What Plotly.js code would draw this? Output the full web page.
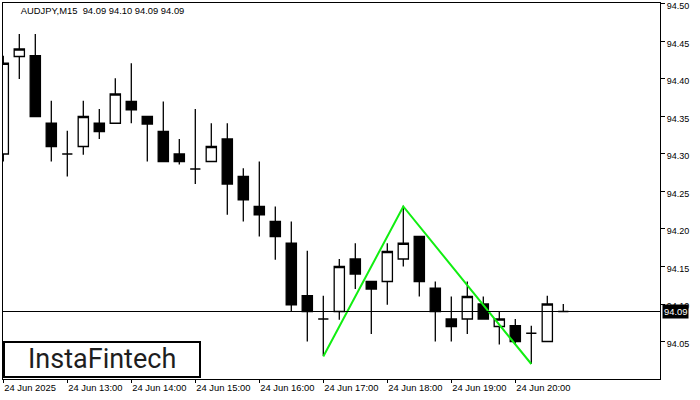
<!DOCTYPE html>
<html>
<head>
<meta charset="utf-8">
<script src="https://cdn.plot.ly/plotly-3.0.1.min.js"></script>
<style>html,body{margin:0;padding:0;background:#fff;}#chart{width:700px;height:400px;}</style>
</head>
<body>
<div id="chart"></div>
<script>
// ---- data (AUDJPY, M15, 24 Jun 2025) ----
const times = [
  "2025-06-24 12:00","2025-06-24 12:15","2025-06-24 12:30","2025-06-24 12:45",
  "2025-06-24 13:00","2025-06-24 13:15","2025-06-24 13:30","2025-06-24 13:45",
  "2025-06-24 14:00","2025-06-24 14:15","2025-06-24 14:30","2025-06-24 14:45",
  "2025-06-24 15:00","2025-06-24 15:15","2025-06-24 15:30","2025-06-24 15:45",
  "2025-06-24 16:00","2025-06-24 16:15","2025-06-24 16:30","2025-06-24 16:45",
  "2025-06-24 17:00","2025-06-24 17:15","2025-06-24 17:30","2025-06-24 17:45",
  "2025-06-24 18:00","2025-06-24 18:15","2025-06-24 18:30","2025-06-24 18:45",
  "2025-06-24 19:00","2025-06-24 19:15","2025-06-24 19:30","2025-06-24 19:45",
  "2025-06-24 20:00","2025-06-24 20:15","2025-06-24 20:30","2025-06-24 20:45"
];
const opens  = [94.300,94.430,94.431,94.341,94.300,94.310,94.341,94.341,94.370,94.350,94.330,94.300,
                94.280,94.290,94.320,94.270,94.230,94.210,94.181,94.111,94.080,94.090,94.160,94.130,
                94.130,94.160,94.190,94.121,94.080,94.080,94.100,94.070,94.071,94.061,94.050,94.090];
const highs  = [94.431,94.460,94.460,94.371,94.331,94.371,94.360,94.401,94.421,94.350,94.370,94.320,
                94.360,94.341,94.341,94.281,94.290,94.230,94.210,94.171,94.111,94.160,94.181,94.130,
                94.181,94.231,94.190,94.130,94.110,94.130,94.110,94.090,94.080,94.071,94.111,94.100];
const lows   = [94.290,94.400,94.350,94.290,94.270,94.299,94.320,94.341,94.341,94.290,94.290,94.286,
                94.260,94.290,94.219,94.210,94.190,94.159,94.090,94.050,94.031,94.079,94.120,94.060,
                94.099,94.150,94.110,94.050,94.050,94.060,94.080,94.046,94.046,94.020,94.050,94.090];
const closes = [94.421,94.440,94.350,94.310,94.300,94.350,94.330,94.380,94.359,94.340,94.290,94.290,
                94.280,94.310,94.260,94.239,94.219,94.190,94.099,94.090,94.080,94.150,94.140,94.120,
                94.170,94.181,94.130,94.090,94.070,94.110,94.080,94.080,94.050,94.061,94.100,94.090];

// pattern (green line)
const patternX = ["2025-06-24 17:00","2025-06-24 18:15","2025-06-24 20:15"];
const patternY = [94.03, 94.23, 94.02];

// axis ticks
const xTickVals = ["2025-06-24 12:00","2025-06-24 13:00","2025-06-24 14:00","2025-06-24 15:00",
                   "2025-06-24 16:00","2025-06-24 17:00","2025-06-24 18:00","2025-06-24 19:00","2025-06-24 20:00"];
const xTickText = ["24 Jun 2025","24 Jun 13:00","24 Jun 14:00","24 Jun 15:00",
                   "24 Jun 16:00","24 Jun 17:00","24 Jun 18:00","24 Jun 19:00","24 Jun 20:00"];
const yTickVals = [94.05,94.10,94.15,94.20,94.25,94.30,94.35,94.40,94.45,94.50];

const symbolLabel = "AUDJPY,M15";
const logoText = "InstaFintech";

// ---- layout geometry ----
const W = 700, H = 400;
const M = {l: 3, r: 40, t: 3, b: 21};
const plotW = W - M.l - M.r, plotH = H - M.t - M.b;
const px2paperX = px => (px - M.l) / plotW;
const px2paperY = py => (H - M.b - py) / plotH;

// x range: 16 px per 15-minute bar
const msPerPx = 15 * 60 * 1000 / 16;
const t0 = new Date("2025-06-24T12:00:00Z").getTime() - 0.3 * msPerPx;
const t1 = t0 + plotW * msPerPx;
const fmt = t => new Date(t).toISOString().replace("T", " ").replace("Z", "");

const last = closes[closes.length - 1];
const lastO = opens[opens.length - 1], lastH = highs[highs.length - 1], lastL = lows[lows.length - 1];
const titleText = symbolLabel + "  " + [lastO, lastH, lastL, last].map(v => v.toFixed(2)).join(" ");

const fontFam = "Liberation Sans, Arial, sans-serif";

const traces = [
  {
    type: "candlestick",
    x: times, open: opens, high: highs, low: lows, close: closes,
    increasing: {line: {color: "#000000", width: 1.3}, fillcolor: "#ffffff"},
    decreasing: {line: {color: "#000000", width: 1.3}, fillcolor: "#000000"},
    whiskerwidth: 0,
    hoverinfo: "skip",
    showlegend: false
  },
  {
    type: "scatter", mode: "lines",
    x: patternX, y: patternY,
    line: {color: "#11ee11", width: 2},
    hoverinfo: "skip", showlegend: false
  }
];

const layout = {
  width: W, height: H,
  margin: M,
  paper_bgcolor: "#ffffff", plot_bgcolor: "#ffffff",
  showlegend: false,
  boxgap: 0.36, boxgroupgap: 0,
  title: {
    text: titleText,
    x: 19 / W, xanchor: "left", xref: "paper",
    y: 1 - 11 / H, yanchor: "middle", yref: "container",
    font: {family: fontFam, size: 9.4, color: "#000000"}
  },
  xaxis: {
    type: "date",
    range: [fmt(t0), fmt(t1)],
    rangeslider: {visible: false},
    showgrid: false, zeroline: false,
    showline: true, linecolor: "#000000", linewidth: 1, mirror: true,
    ticks: "outside", ticklen: 3, tickcolor: "#000000", tickwidth: 1,
    tickvals: xTickVals, ticktext: xTickText,
    ticklabelposition: "outside right",
    tickfont: {family: fontFam, size: 9.4, color: "#000000"},
    fixedrange: true
  },
  yaxis: {
    side: "right",
    range: [94.00, 94.5013],
    showgrid: false, zeroline: false,
    showline: true, linecolor: "#000000", linewidth: 1, mirror: true,
    ticks: "outside", ticklen: 4, tickcolor: "#000000", tickwidth: 1,
    tickvals: yTickVals, tickformat: ".2f",
    ticklabeloverflow: "allow",
    ticklabelshift: 2,
    tickfont: {family: fontFam, size: 9, color: "#000000"},
    fixedrange: true
  },
  shapes: [
    {
      type: "line", xref: "paper", yref: "y",
      x0: 0, x1: 1, y0: last, y1: last,
      line: {color: "#000000", width: 1}
    },
    {
      type: "rect", xref: "paper", yref: "paper",
      x0: px2paperX(4), x1: px2paperX(200), y0: px2paperY(377), y1: px2paperY(342),
      fillcolor: "#ffffff",
      line: {color: "#000000", width: 2}
    }
  ],
  annotations: [
    {
      xref: "paper", yref: "y", x: px2paperX(662), y: last,
      xanchor: "left", yanchor: "middle",
      text: last.toFixed(2), showarrow: false,
      bgcolor: "#000000", borderpad: 1,
      font: {family: fontFam, size: 9.4, color: "#ffffff"}
    },
    {
      xref: "paper", yref: "paper", x: px2paperX(102), y: px2paperY(359),
      xanchor: "center", yanchor: "middle",
      text: logoText, showarrow: false,
      font: {family: "Roboto, sans-serif", size: 27, color: "#1e1e1e"}
    }
  ]
};

Plotly.newPlot("chart", traces, layout, {staticPlot: true, displayModeBar: false});
</script>
</body>
</html>
